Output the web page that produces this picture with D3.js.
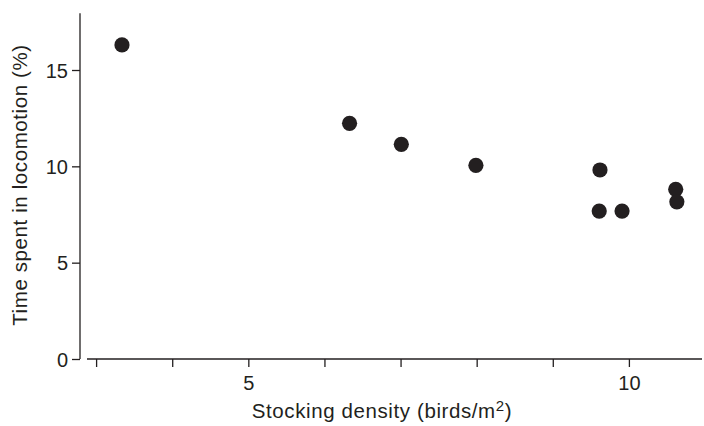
<!DOCTYPE html>
<html><head><meta charset="utf-8">
<script src="https://cdn.jsdelivr.net/npm/d3@7"></script>
<style>
html,body{margin:0;padding:0;background:#fff;}
svg{display:block;font-family:"Liberation Sans",Arial,Helvetica,sans-serif;}
</style></head>
<body><svg id="c" width="704" height="426"></svg>
<script>
// Data
const density = [3.34, 6.33, 7.01, 7.99, 9.62, 9.61, 9.91, 10.615, 10.63];
const locomotion = [16.3, 12.23, 11.14, 10.05, 9.81, 7.68, 7.68, 8.81, 8.16];
const xTicks = [3, 4, 5, 6, 7, 8, 9, 10];
const xTickLabels = ["", "", "5", "", "", "", "", "10"];
const yTicks = [0, 5, 10, 15];

const svg = d3.select("#c");
const ink = "#231f20";

const x = d3.scaleLinear().domain([3, 10]).range([96.1, 628.9]);
const y = d3.scaleLinear().domain([0, 15]).range([359, 70]);

// Y axis
const yAxis = d3.axisLeft(y).tickValues(yTicks).tickSize(8).tickPadding(4).tickSizeOuter(0);
const gy = svg.append("g").attr("transform", "translate(80,0)").call(yAxis);
gy.select(".domain").remove();
gy.append("line").attr("x1", 0).attr("x2", 0).attr("y1", y(0)).attr("y2", y(17.95))
  .attr("stroke", ink).attr("stroke-width", 1.3);
gy.selectAll(".tick line").attr("stroke", ink).attr("stroke-width", 1.3);
gy.selectAll(".tick text").attr("fill", ink).attr("font-size", 20).attr("dy", "0.36em");

// X axis
const xAxis = d3.axisBottom(x).tickValues(xTicks).tickSize(8).tickPadding(9)
  .tickFormat((d, i) => xTickLabels[i]);
const gx = svg.append("g").attr("transform", "translate(0,359)").call(xAxis);
gx.select(".domain").remove();
gx.append("line").attr("x1", x(x.invert(87))).attr("x2", x(x.invert(702)))
  .attr("y1", 0).attr("y2", 0).attr("stroke", ink).attr("stroke-width", 1.3);
gx.selectAll(".tick line").attr("stroke", ink).attr("stroke-width", 1.3);
gx.selectAll(".tick text").attr("fill", ink).attr("font-size", 20);

// Axis titles
const xt = svg.append("text").attr("x", 382).attr("y", 418).attr("text-anchor", "middle")
  .attr("font-size", 20.5).attr("letter-spacing", 0.6).attr("fill", ink);
xt.append("tspan").text("Stocking density (birds/m");
xt.append("tspan").attr("font-size", 15).attr("dy", -7).text("2");
xt.append("tspan").attr("dy", 7).text(")");

svg.append("text").attr("transform", "translate(27,185) rotate(-90)")
  .attr("text-anchor", "middle").attr("font-size", 20.5).attr("letter-spacing", 0.6).attr("fill", ink)
  .text("Time spent in locomotion (%)");

// Points
svg.append("g").selectAll("circle").data(density).join("circle")
  .attr("cx", d => x(d))
  .attr("cy", (d, i) => y(locomotion[i]))
  .attr("r", 7.6)
  .attr("fill", ink);
</script></body></html>
